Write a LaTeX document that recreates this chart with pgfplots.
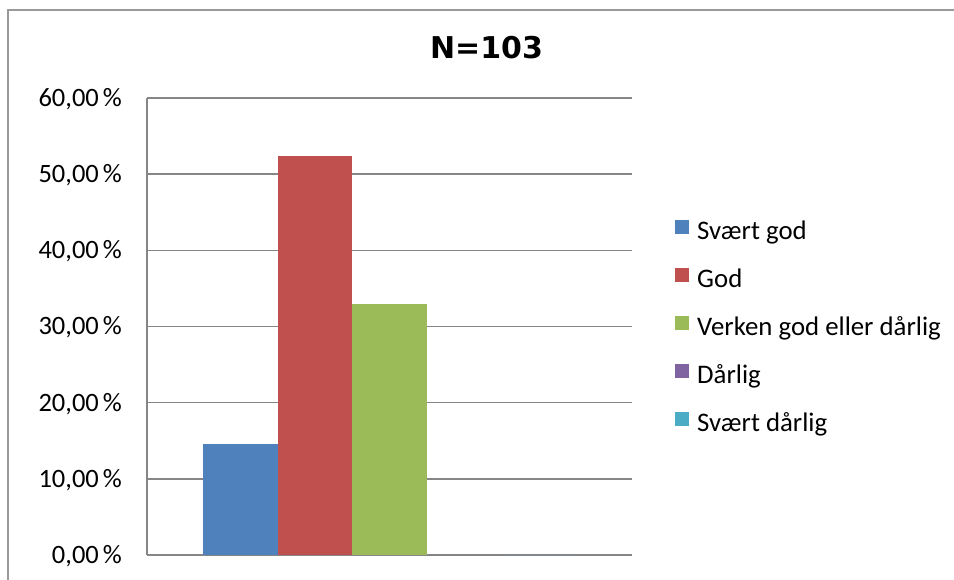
\documentclass[border=0pt]{standalone}
\usepackage{pgfplots}
\pgfplotsset{compat=1.18}
\usepackage{fontspec}
\setmainfont{Carlito}
\newfontfamily\titlefont{DejaVu Sans}

\definecolor{xlblue}{HTML}{4F81BD}
\definecolor{xlred}{HTML}{C0504D}
\definecolor{xlgreen}{HTML}{9BBB59}
\definecolor{xlpurple}{HTML}{8064A2}
\definecolor{xlcyan}{HTML}{4BACC6}
\definecolor{xlgrid}{HTML}{868686}
\definecolor{xlframe}{HTML}{9A9A9A}

\begin{document}
\begin{tikzpicture}
  \useasboundingbox (0,0) rectangle (954pt,579pt);
  % chart frame (cut off at right and bottom)
  \draw[xlframe, line width=2pt] (8pt,-2pt) -- (8pt,569pt) -- (958pt,569pt);
  \begin{axis}[
    at={(147pt,24pt)}, anchor=south west,
    scale only axis,
    width=485pt, height=457pt,
    ybar=0pt, bar width=74.5pt,
    xmin=-0.5, xmax=0.5,
    ymin=0, ymax=60,
    xtick=\empty,
    ytick={0,10,...,60},
    yticklabel={\pgfmathprintnumber[fixed,fixed zerofill,precision=2,use comma,assume math mode=true]{\tick}\hspace{4pt}\%},
    yticklabel style={font=\fontsize{26.5}{31}\selectfont, anchor=east, inner sep=0pt, xshift=-25pt, text height=16.8pt, text depth=0pt},
    major tick length=0pt,
    axis lines*=left,
    axis line style={xlgrid, line width=1.5pt, -},
    ymajorgrids,
    grid style={xlgrid, line width=1.5pt},
    title={N=103},
    title style={at={(0.70,1.0744)}, anchor=base, font=\titlefont\bfseries\fontsize{30}{34}\selectfont, inner sep=0pt},
    legend style={at={(1.0887,0.495)}, anchor=west, draw=none, fill=none, inner sep=0pt,
      font=\fontsize{26.8}{31}\selectfont, row sep=23pt,
      nodes={inner sep=0pt, text height=18pt, text depth=6pt},
      /tikz/every odd column/.append style={column sep=8pt}},
    legend cell align=left,
    legend image code/.code={\fill[#1] (0pt,-1pt) rectangle (14pt,13pt);},
  ]
    \addplot[fill=xlblue, draw=none] coordinates {(0,14.56)};
    \addplot[fill=xlred, draw=none] coordinates {(0,52.43)};
    \addplot[fill=xlgreen, draw=none] coordinates {(0,33.01)};
    \addplot[fill=xlpurple, draw=none] coordinates {(0,0)};
    \addplot[fill=xlcyan, draw=none] coordinates {(0,0)};
    \legend{Svært god, God, Verken god eller dårlig, Dårlig, Svært dårlig}
  \end{axis}
\end{tikzpicture}
\end{document}
